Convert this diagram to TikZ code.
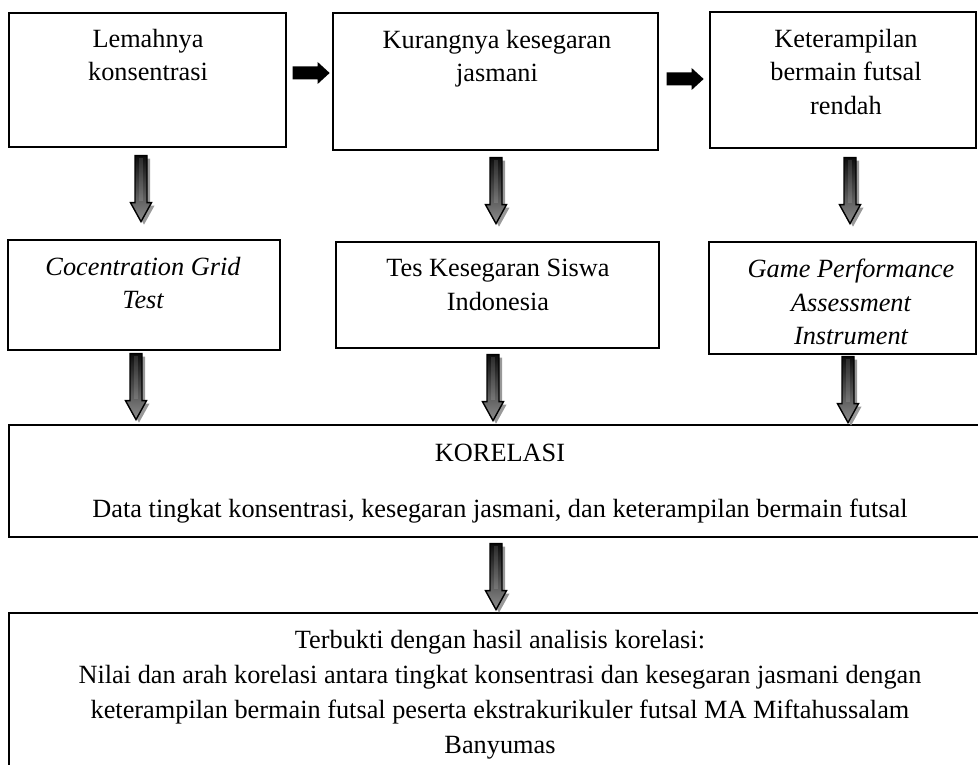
\documentclass[tikz,border=0pt]{standalone}
\usepackage{fontspec}
\setmainfont{Liberation Serif}
\usetikzlibrary{calc}
\tikzset{
  box/.style={draw=black, line width=1.3pt, rectangle, inner sep=0pt},
  txt/.style={align=center, inner sep=0pt, anchor=north, font=\fontsize{26.3}{33.5}\selectfont},
  itxt/.style={txt, font=\fontsize{26.3}{33.5}\selectfont\itshape},
  wtxt/.style={txt, font=\fontsize{26.3}{35}\selectfont},
  ltxt/.style={inner sep=0pt, anchor=base, font=\fontsize{26.3}{33.5}\selectfont},
  darrow/.pic={
    \fill[black!40, shift={(3,3)}] (-6,0) -- (-6,47) -- (-10.5,47) -- (0,66) -- (10.5,47) -- (6,47) -- (6,0) -- cycle;
    \draw[line width=1.4pt, top color=black!95, bottom color=black!45] (-6,0) -- (-6,47) -- (-10.5,47) -- (0,66) -- (10.5,47) -- (6,47) -- (6,0) -- cycle;
    \fill[white, opacity=0.12] (-2,2) rectangle (2,45);
  },
  rarrow/.pic={
    \fill[black] (0,-6.5) -- (25,-6.5) -- (25,-11) -- (37,0) -- (25,11) -- (25,6.5) -- (0,6.5) -- cycle;
  }
}
\begin{document}
\begin{tikzpicture}[x=1pt, y=-1pt]
\useasboundingbox (0,0) rectangle (978,765);
\clip (0,0) rectangle (978,765);
\fill[white] (0,0) rectangle (978,765);

% row 1 boxes
\node[box, minimum width=277pt, minimum height=134pt] (b1) at (147.5,80) {};
\node[box, minimum width=325pt, minimum height=137pt] (b2) at (495.5,81.5) {};
\node[box, minimum width=266pt, minimum height=136pt] (b3) at (843,80) {};
% row 2 boxes
\node[box, minimum width=272pt, minimum height=110pt] (b4) at (144,295) {};
\node[box, minimum width=323pt, minimum height=106pt] (b5) at (497.5,295) {};
\node[box, minimum width=267pt, minimum height=112pt] (b6) at (842.5,298) {};
% korelasi
\node[box, minimum width=973pt, minimum height=112pt] (k) at (495.5,481) {};
% final
\node[box, minimum width=973pt, minimum height=188pt] (f) at (495.5,707) {};

% texts
\node[txt] (t1) at (148,29) {Lemahnya\\konsentrasi};
\node[txt] (t2) at (497,30) {Kurangnya kesegaran\\jasmani};
\node[txt] (t3) at (846,29) {Keterampilan\\bermain futsal\\rendah};
\node[itxt] (t4) at (143,257) {Cocentration Grid\\Test};
\node[txt] (t5) at (498,259) {Tes Kesegaran Siswa\\Indonesia};
\node[itxt] (t6) at (851,259) {Game Performance\\Assessment\\Instrument};
\node[ltxt] (t7) at (500,461) {KORELASI};
\node[ltxt] (t7b) at (500,517) {Data tingkat konsentrasi, kesegaran jasmani, dan keterampilan bermain futsal};
\node[wtxt] (t8) at (500,630) {Terbukti dengan hasil analisis korelasi:\\Nilai dan arah korelasi antara tingkat konsentrasi dan kesegaran jasmani dengan\\keterampilan bermain futsal peserta ekstrakurikuler futsal MA Miftahussalam\\Banyumas};

% right arrows
\pic at ($(b1.east)+(6,-7)$) {rarrow};
\pic at ($(b2.east)+(8,-2.5)$) {rarrow};

% down arrows
\pic at ($(b1.south)+(-6.5,8)$) {darrow};
\pic at ($(b2.south)+(0.5,7)$) {darrow};
\pic at ($(b3.south)+(7,9)$) {darrow};
\pic at ($(b4.south)+(-8,3)$) {darrow};
\pic at ($(b5.south)+(-4.5,6)$) {darrow};
\pic at ($(b6.south)+(5.5,2)$) {darrow};
\pic at ($(k.south)+(0.5,6)$) {darrow};
\end{tikzpicture}
\end{document}
